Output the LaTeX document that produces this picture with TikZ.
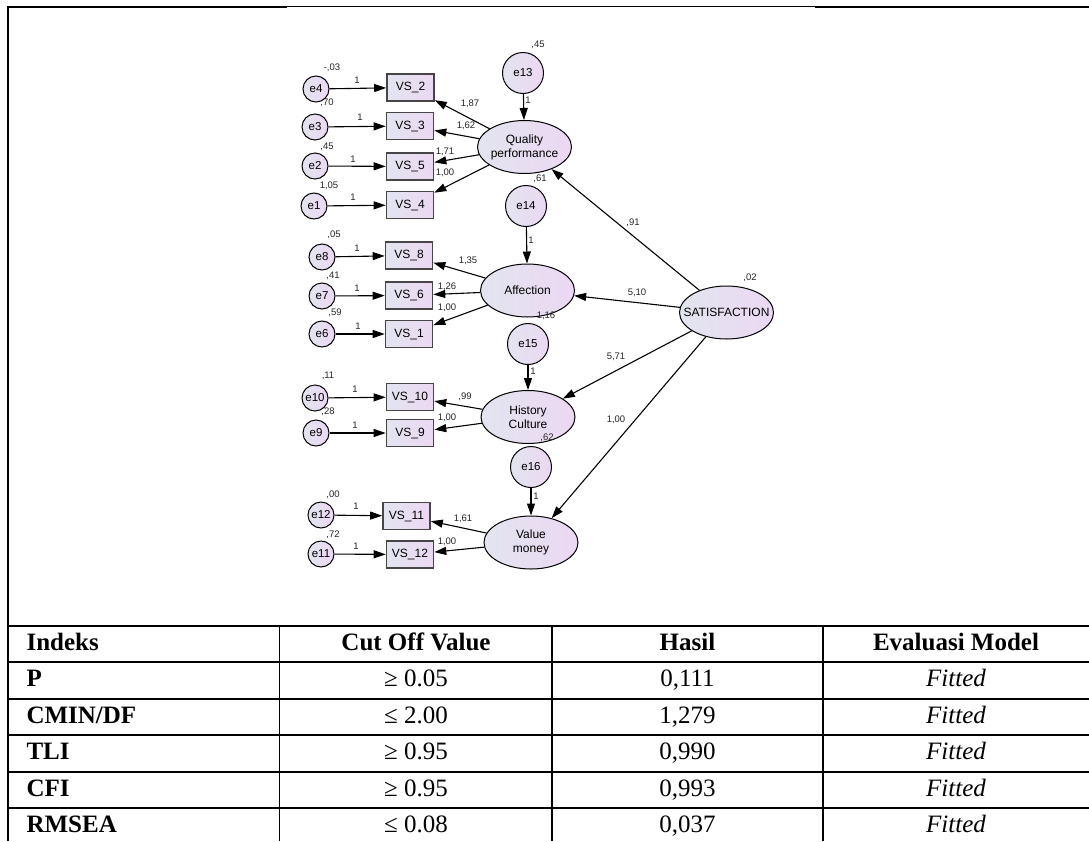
\documentclass[tikz,border=0pt]{standalone}
\usepackage{fontspec}
\setmainfont{Liberation Serif}
\newfontfamily\amosfont{Liberation Sans}
\usepackage{tikz}
\usetikzlibrary{arrows.meta,shapes}
\definecolor{fillA}{RGB}{226,229,239}
\definecolor{fillB}{RGB}{236,215,243}
\definecolor{boxline}{RGB}{70,70,70}

\begin{document}
\begin{tikzpicture}[x=1pt,y=-1pt,>={Triangle[length=12pt,width=8pt]},
err/.style={circle,draw,line width=1pt,left color=fillA,right color=fillB,inner sep=0pt,minimum size=26pt,font=\amosfont\fontsize{11.5}{12}\selectfont},
errbig/.style={err,minimum size=41pt},
obs/.style={rectangle,draw=boxline,line width=1.6pt,left color=fillA,right color=fillB,inner sep=0pt,minimum width=47pt,minimum height=27pt,font=\amosfont\fontsize{12}{14}\selectfont},
lat/.style={ellipse,draw,line width=1pt,left color=fillA,right color=fillB,inner ysep=0pt,inner xsep=-5pt,minimum width=94pt,minimum height=53pt,align=center,font=\amosfont\fontsize{12}{14}\selectfont},
lbl/.style={inner sep=0pt,text=black!85,font=\amosfont\fontsize{9.5}{10}\selectfont},
tab/.style={anchor=base,font=\fontsize{25}{30}\selectfont}]
\path[use as bounding box,fill=white](0,0)rectangle(1089,841);
\draw[line width=2.3pt](8,7)--(287,7)(815,7)--(1089,7);
\draw[line width=1.2pt](287,6.3)--(815,6.3);
\draw[line width=2.7pt](8,5.8)--(8,841);

\node[err](e4)at(316,89){e4};
\node[err](e3)at(315,127){e3};
\node[err](e2)at(315,166){e2};
\node[err](e1)at(314,206){e1};
\node[obs](v2)at(410.5,87.5){VS\_2};
\node[obs](v3)at(410,126){VS\_3};
\node[obs](v5)at(410,166.5){VS\_5};
\node[obs](v4)at(410,205){VS\_4};
\node[lat](qp)at(524.5,147){Quality\\performance};
\node[errbig](e13)at(523,73){e13};

\node[err](e8)at(322,257){e8};
\node[err](e7)at(322,296){e7};
\node[err](e6)at(322,334){e6};
\node[obs](v8)at(409,255.5){VS\_8};
\node[obs](v6)at(409,295.5){VS\_6};
\node[obs](v1)at(409,334){VS\_1};
\node[lat](af)at(527.5,290.5){Affection};
\node[errbig](e14)at(526,206){e14};

\node[err](e10)at(315,398){e10};
\node[err](e9)at(316,433){e9};
\node[obs](v10)at(410,397){VS\_10};
\node[obs](v9)at(410,433){VS\_9};
\node[lat](hc)at(528,417){History\\Culture};
\node[errbig](e15)at(528,344){e15};

\node[err](e12)at(321,515){e12};
\node[err](e11)at(321,554){e11};
\node[obs](v11)at(406.5,516){VS\_11};
\node[obs](v12)at(410,554.5){VS\_12};
\node[lat](vm)at(531,542.5){Value\\money};
\node[errbig](e16)at(531,467){e16};

\node[lat,inner xsep=-11pt](sat)at(726.5,312.5){SATISFACTION};

\draw[->,line width=1.1pt](e4)edge(v2)(e3)edge(v3)(e2)edge(v5)(e1)edge(v4)
(e8)edge(v8)(e7)edge(v6)(e6)edge(v1)(e10)edge(v10)(e9)edge(v9)(e12)edge(v11)(e11)edge(v12);
\draw[->,line width=1.1pt](qp)edge(v2)(qp)edge(v3)(qp)edge(v5)(qp)edge(v4)
(af)edge(v8)(af)edge(v6)(af)edge(v1)(hc)edge(v10)(hc)edge(v9)(vm)edge(v11)(vm)edge(v12);
\draw[->,line width=1.1pt](e13)edge(qp)(e14)edge(af)(e15)edge(hc)(e16)edge(vm);
\draw[->,line width=1.1pt](sat)edge(qp)(sat)edge(af)(sat)edge(hc)(sat)edge(vm);

\path(538,45)node[lbl](r13){,45}
(332,68)node[lbl](r4){-,03}
(327,103)node[lbl](r3){,70}
(327,147)node[lbl](r2){,45}
(329,186)node[lbl](r1){1,05}
(540,179)node[lbl](r14){,61}
(334,235)node[lbl](r8){,05}
(333,276)node[lbl](r7){,41}
(335,313)node[lbl](r6){,59}
(546,316)node[lbl](r15){1,16}
(328,376)node[lbl](r10){,11}
(328,412)node[lbl](r9){,28}
(547,438)node[lbl](r16){,62}
(333,495)node[lbl](r12){,00}
(333,535)node[lbl](r11){,72}
(750,278)node[lbl](rs){,02};
\path(357,80)node[lbl](f4){1}
(360,117)node[lbl](f3){1}
(353,159)node[lbl](f2){1}
(353,197)node[lbl](f1){1}
(357,248)node[lbl](f8){1}
(357,288)node[lbl](f7){1}
(358,326)node[lbl](f6){1}
(355,389)node[lbl](f10){1}
(355,425)node[lbl](f9){1}
(356,506)node[lbl](f12){1}
(356,546)node[lbl](f11){1}
(528,100)node[lbl](f13){1}
(531,240)node[lbl](f14){1}
(533,371)node[lbl](f15){1}
(536,496)node[lbl](f16){1};
\path(470,104)node[lbl](l2){1,87}
(466,126)node[lbl](l3){1,62}
(445,152)node[lbl](l5){1,71}
(445,173)node[lbl](l4){1,00}
(468,261)node[lbl](l8){1,35}
(447,287)node[lbl](l6){1,26}
(447,308)node[lbl](l1){1,00}
(465,397)node[lbl](l10){,99}
(447,418)node[lbl](l9){1,00}
(463,519)node[lbl](l11){1,61}
(447,542)node[lbl](l12){1,00}
(633,223)node[lbl](sq){,91}
(637,293)node[lbl](sa){5,10}
(616,357)node[lbl](sh){5,71}
(616,420)node[lbl](sv){1,00};

\draw[line width=2.2pt](8,626)--(1089,626);
\draw[line width=1.9pt](8,662.4)--(1089,662.4)(8,698.8)--(1089,698.8)(8,735.2)--(1089,735.2)
(8,771.6)--(1089,771.6)(8,808)--(1089,808);
\draw[line width=1.9pt](279.5,626)--(279.5,841)(552,626)--(552,841)(823,626)--(823,841);
\path(23,650.5)node[tab,anchor=base west](h1){\textbf{Indeks}}
(416,650.5)node[tab](h2){\textbf{Cut Off Value}}
(687.5,650.5)node[tab](h3){\textbf{Hasil}}
(956,650.5)node[tab](h4){\textbf{Evaluasi Model}};
\path(23,686.9)node[tab,anchor=base west](a1){\textbf{P}}
(416,686.9)node[tab](a2){≥ 0.05}
(687.5,686.9)node[tab](a3){0,111}
(956,686.9)node[tab](a4){\textit{Fitted}};
\path(23,723.3)node[tab,anchor=base west](b1){\textbf{CMIN/DF}}
(416,723.3)node[tab](b2){≤ 2.00}
(687.5,723.3)node[tab](b3){1,279}
(956,723.3)node[tab](b4){\textit{Fitted}};
\path(23,759.7)node[tab,anchor=base west](c1){\textbf{TLI}}
(416,759.7)node[tab](c2){≥ 0.95}
(687.5,759.7)node[tab](c3){0,990}
(956,759.7)node[tab](c4){\textit{Fitted}};
\path(23,796.1)node[tab,anchor=base west](d1){\textbf{CFI}}
(416,796.1)node[tab](d2){≥ 0.95}
(687.5,796.1)node[tab](d3){0,993}
(956,796.1)node[tab](d4){\textit{Fitted}};
\path(23,832.5)node[tab,anchor=base west](g1){\textbf{RMSEA}}
(416,832.5)node[tab](g2){≤ 0.08}
(687.5,832.5)node[tab](g3){0,037}
(956,832.5)node[tab](g4){\textit{Fitted}};
\end{tikzpicture}
\end{document}
